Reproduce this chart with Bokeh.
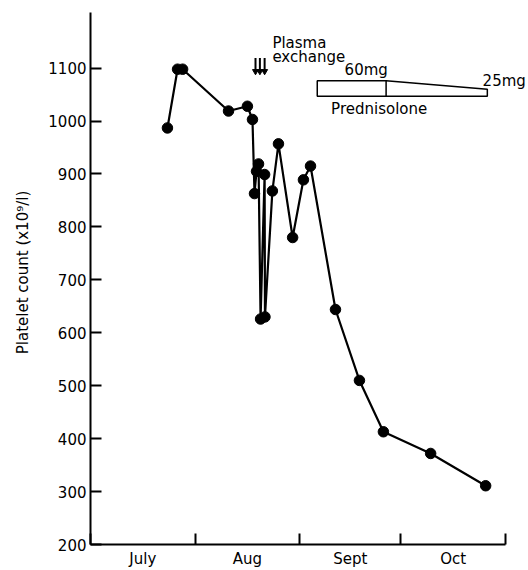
from bokeh.plotting import figure
from bokeh.models import FixedTicker, Range1d
from bokeh.core.properties import value
from bokeh.embed import file_html
from bokeh.resources import INLINE

# ---- data (days counted from 1 July) ----
days = [22.8, 25.8, 27.3, 40.9, 46.5, 48.0, 48.6, 49.2, 49.8, 50.4, 51.6,
        51.7, 53.9, 55.7, 59.9, 63.1, 65.2, 72.6, 79.7, 86.8, 100.8, 117.1]
platelets = [987, 1098, 1098, 1019, 1028, 1003, 863, 905, 919, 626, 899,
             630, 868, 957, 780, 889, 915, 644, 510, 413, 372, 311]

month_bounds = [0, 31, 62, 92, 123]
month_mids = [15.5, 46.5, 77, 107.5]
month_labels = ["July", "Aug", "Sept", "Oct"]
y_ticks = [200, 300, 400, 500, 600, 700, 800, 900, 1000, 1100]

plasma_days = [48.9, 50.2, 51.6]
pred_start, pred_taper, pred_end = 67.2, 87.6, 117.6

FONT = value("DejaVu Sans")
FS = "15px"

p = figure(width=528, height=570, output_backend="svg", toolbar_location=None,
           x_range=Range1d(0, 129.8), y_range=Range1d(200, 1227.8),
           min_border_left=90, min_border_right=0, min_border_top=0,
           min_border_bottom=23)
p.outline_line_color = None
p.grid.visible = False
p.background_fill_color = "white"

# x axis
xa = p.xaxis[0]
xa.ticker = FixedTicker(ticks=month_mids, minor_ticks=month_bounds)
xa.major_label_overrides = {m: l for m, l in zip(month_mids, month_labels)}
xa.major_tick_in = 0
xa.major_tick_out = 0
xa.minor_tick_in = 11
xa.minor_tick_out = 0
xa.minor_tick_line_width = 2
xa.minor_tick_line_color = "black"
xa.axis_line_width = 2
xa.axis_line_color = "black"
xa.bounds = (0, 123)
xa.major_label_standoff = 5
xa.major_label_text_font = "DejaVu Sans"
xa.major_label_text_font_size = FS
xa.major_label_text_color = "black"

# y axis
ya = p.yaxis[0]
ya.ticker = FixedTicker(ticks=y_ticks, minor_ticks=[])
ya.major_tick_in = 11
ya.major_tick_out = 0
ya.major_tick_line_width = 2
ya.major_tick_line_color = "black"
ya.axis_line_width = 2
ya.axis_line_color = "black"
ya.bounds = (200, 1205)
ya.major_label_standoff = 4
ya.major_label_text_font = "DejaVu Sans"
ya.major_label_text_font_size = FS
ya.major_label_text_color = "black"
ya.axis_label = "Platelet count (x10⁹/l)"
ya.axis_label_text_font = "DejaVu Sans"
ya.axis_label_text_font_size = FS
ya.axis_label_text_font_style = "normal"
ya.axis_label_text_color = "black"
ya.axis_label_standoff = 13

# data
p.line(days, platelets, line_color="black", line_width=2.2)
p.scatter(days, platelets, size=10.5, fill_color="black", line_color="black")

# plasma exchange arrows
p.segment(x0=plasma_days, y0=[1119] * 3, x1=plasma_days, y1=[1096] * 3,
          line_color="black", line_width=2)
p.scatter(plasma_days, [1094] * 3, marker="inverted_triangle", size=6,
          fill_color="black", line_color="black")
p.text(x=[53.9, 53.9], y=[1148, 1121], text=["Plasma", "exchange"],
       text_font=FONT, text_font_size=FS, text_align="left",
       text_baseline="middle", text_color="black")

# prednisolone bar
p.patch([pred_start, pred_start, pred_taper, pred_end, pred_end],
        [1047, 1076, 1076, 1060, 1047],
        fill_color=None, line_color="black", line_width=1.5)
p.segment(x0=[pred_taper], y0=[1047], x1=[pred_taper], y1=[1076],
          line_color="black", line_width=1.5)
p.text(x=[75.3, 116.2, 71.3], y=[1096, 1076, 1023],
       text=["60mg", "25mg", "Prednisolone"],
       text_font=FONT, text_font_size=FS, text_align="left",
       text_baseline="middle", text_color="black")

open("out.html", "w").write(file_html(p, INLINE))
